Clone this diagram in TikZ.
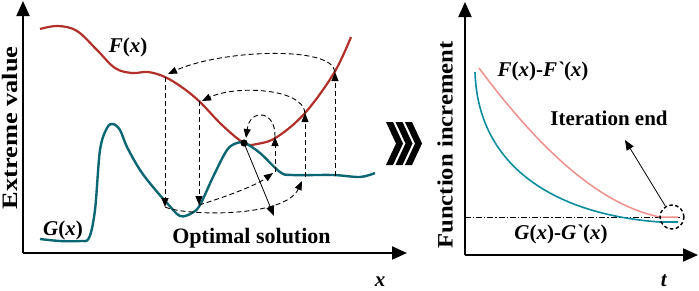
\documentclass[tikz,border=0pt]{standalone}
\usepackage{fontspec}
\setmainfont{Liberation Serif}
\newfontfamily\nolig[Ligatures=TeXOff]{Liberation Serif}
\usetikzlibrary{arrows.meta}
\definecolor{fred}{HTML}{B2302A}
\definecolor{gteal}{HTML}{0B6673}
\definecolor{rpink}{HTML}{F0908C}
\definecolor{rteal}{HTML}{0A8C9E}
\tikzset{
  axis/.style={line width=2pt,-{Triangle[length=15pt,width=13pt]}},
  dsh/.style={line width=0.9pt,dash pattern=on 5pt off 3pt,-{Triangle[length=9pt,width=7pt]}},
  lab/.style={font=\fontsize{21}{24}\selectfont\bfseries,inner sep=0pt},
  ttl/.style={font=\fontsize{22}{24}\selectfont\bfseries,inner sep=0pt,rotate=90},
  chev/.style={fill=black,draw=none}
}
\newcommand{\bi}[1]{\textit{#1}}
\newcommand{\grv}{{\nolig\bfseries\itshape\symbol{96}}}
\begin{document}
\begin{tikzpicture}[x=1pt,y=-1pt]
\useasboundingbox (0,0) rectangle (699,290);
% ---------- left panel axes
\coordinate (lo) at (23,253);
\coordinate (ly) at (23,1);
\coordinate (lx) at (407,253);
\draw[axis] (lo) -- (ly);
\draw[axis] (lo) -- (lx);
% curves
\draw[fred,line width=2.2pt] plot[smooth,tension=0.6] coordinates {(40,29) (58,26) (77,31) (97,50) (115,68) (132,73) (148,72) (165,77) (183,88) (200,102) (222,125) (244,143) (257,144) (277,137) (305,113) (334,73) (351,37)};
\draw[gteal,line width=2.4pt] plot[smooth,tension=0.55] coordinates {(40,239) (60,241) (80,241) (89,238) (95,210) (100,150) (107,128) (113,124) (120,130) (127,147) (140,170) (153,187) (167,203) (180,216) (192,213) (200,205) (213,177) (227,150) (237,143) (245,143) (260,153) (280,172) (292,175) (333,175) (360,177) (375,173)};
% points
\coordinate (f1) at (165,77);
\coordinate (f2) at (199,101);
\coordinate (f3) at (275,137);
\coordinate (f4) at (305,113);
\coordinate (f5) at (335,72);
\coordinate (g1) at (165,207);
\coordinate (g2) at (199,205);
\coordinate (g3) at (275,172);
\coordinate (g4) at (305,177);
\coordinate (g5) at (335,176);
\coordinate (g4t) at (302,181);
\coordinate (g3t) at (273,173);
\coordinate (opt) at (244,143);
\coordinate (optt) at (246,138);
\coordinate (f2t) at (202,101);
\coordinate (f1t) at (168,74);
\coordinate (soltip) at (274,216);
% dashed arrows
\draw[dsh] (f1) -- (g1);
\draw[dsh] (f2) -- (g2);
\draw[dsh] (g1) .. controls (185,216) and (285,218) .. (g4t);
\draw[dsh] (g2) .. controls (225,197) and (255,186) .. (g3t);
\draw[dsh] (g3) -- (f3);
\draw[dsh] (g4) -- (f4);
\draw[dsh] (g5) -- (f5);
\draw[dsh] (f3) .. controls (276,110) and (250,108) .. (optt);
\draw[dsh] (f4) .. controls (303,88) and (235,85) .. (f2t);
\draw[dsh] (f5) .. controls (333,45) and (220,50) .. (f1t);
\draw[line width=0.8pt,-{Triangle[length=10pt,width=8pt]}] (opt) -- (soltip);
\fill (opt) circle (3.6pt);
% labels
\node[lab] (fl) at (128,47) {\bi{F}(\bi{x})};
\node[lab] (gl) at (63,230) {\bi{G}(\bi{x})};
\node[lab,font=\fontsize{22}{24}\selectfont\bfseries,anchor=base] (os) at (251.5,243) {Optimal solution};
\node[lab,anchor=base] (xl) at (380,286) {\bi{x}};
\node[ttl] (ev) at (10,128) {\scalebox{1.2}[1]{Extreme value}};
% chevrons
\foreach \cx/\nm in {386/c1,395.5/c2,405/c3}{
  \fill[chev] (\cx,122) -- (\cx+7,122) -- (\cx+17,143.5) -- (\cx+7,165) -- (\cx,165) -- (\cx+10,143.5) -- cycle;
}
% ---------- right panel
\coordinate (ro) at (465,255);
\coordinate (ry) at (465,2);
\coordinate (rx) at (698,255);
\draw[axis] (ro) -- (ry);
\draw[axis] (ro) -- (rx);
\coordinate (dd1) at (465,217);
\coordinate (dd2) at (680,217);
\draw[line width=0.7pt,dash pattern=on 6pt off 2pt on 1.2pt off 2pt] (dd1) -- (dd2);
\draw[rpink,line width=1.5pt] (479,68) .. controls (540,150) and (600,205) .. (660,217) -- (678,217);
\draw[rteal,line width=1.6pt] (475,72) .. controls (478,170) and (560,215) .. (660,222) -- (678,222);
\node[draw,circle,line width=1.4pt,dash pattern=on 3.5pt off 2.5pt,minimum size=24pt,inner sep=0pt] (iend) at (672,217) {};
\coordinate (itip) at (625,140);
\draw[line width=0.8pt,-{Triangle[length=10pt,width=8pt]}] (iend) -- (itip);
\node[lab] (fr) at (543,71) {\bi{F}(\bi{x})-\bi{F}\grv(\bi{x})};
\node[lab,anchor=base] (it) at (609,125) {Iteration end};
\node[lab] (gr) at (561,234) {\bi{G}(\bi{x})-\bi{G}\grv(\bi{x})};
\node[lab,anchor=base] (tl) at (664,286) {\bi{t}};
\node[ttl] (fi) at (445,145) {\scalebox{1.12}[1]{Function increment}};
\end{tikzpicture}
\end{document}
